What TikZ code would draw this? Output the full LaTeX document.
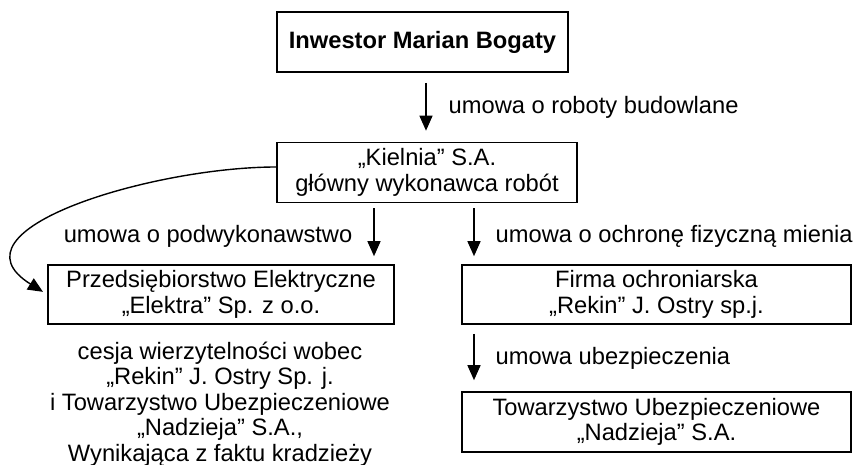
\documentclass[tikz,border=0pt]{standalone}
\usepackage{fontspec}
\setmainfont{Liberation Sans}
\usetikzlibrary{arrows.meta}
\tikzset{
	box/.style={draw, line width=0.8pt, inner sep=0pt, align=center},
	arr/.style={-{Triangle[width=6.5pt,length=7.5pt]}, line width=0.7pt, shorten <=5pt, shorten >=5.5pt},
	lbl/.style={inner sep=0pt}
}

\begin{document}
\begin{tikzpicture}[x=0.5pt,y=-0.5pt]
                        \useasboundingbox (0,0) rectangle (857,465);
                        {\fontsize{11.85pt}{12.8pt}\selectfont

                        % Columns of the arrows
                        \coordinate (colA) at (426,0);
                        \coordinate (colB) at (374,0);
                        \coordinate (colC) at (474,0);

                        % Drawing box inwestor
                        \node [box, minimum width=145.5pt, minimum height=30pt] (inwestor) at (422.5,42) {\textbf{Inwestor Marian Bogaty}};%

                        % Drawing box kielnia
                        \node [box, minimum width=150pt, minimum height=30pt] (kielnia) at (427,172.5) {„Kielnia” S.A.\\główny wykonawca robót};%

                        % Drawing box elektra
                        \node [box, minimum width=173pt, minimum height=29.5pt] (elektra) at (221,294.5) {Przedsiębiorstwo Elektryczne\\„Elektra” Sp. z o.o.};%

                        % Drawing box rekin
                        \node [box, minimum width=194.5pt, minimum height=29.5pt] (rekin) at (656.5,294.5) {Firma ochroniarska\\„Rekin” J. Ostry sp.j.};%

                        % Drawing box nadzieja
                        \node [box, minimum width=194.5pt, minimum height=30pt] (nadzieja) at (656.5,422) {Towarzystwo Ubezpieczeniowe\\„Nadzieja” S.A.};%

                        % Marking text cesja
                        \node [lbl, align=center] (cesja) at (220,404) {cesja wierzytelności wobec\\„Rekin” J. Ostry Sp. j.\\i Towarzystwo Ubezpieczeniowe\\„Nadzieja” S.A.,\\Wynikająca z faktu kradzieży};%

                        % Drawing arrow inwestor -> kielnia
                        \draw [arr] (inwestor.south -| colA) -- (kielnia.north -| colA) node [midway, lbl, anchor=west, xshift=11pt] (umowaA) {umowa o roboty budowlane};%

                        % Drawing arrow kielnia -> elektra
                        \draw [arr, shorten <=2.5pt, shorten >=4pt] (kielnia.south -| colB) -- (elektra.north -| colB) node [midway, lbl, anchor=east, xshift=-10.5pt, yshift=-1.5pt] (umowaB) {umowa o podwykonawstwo};%

                        % Drawing arrow kielnia -> rekin
                        \draw [arr, shorten <=2.5pt, shorten >=4pt] (kielnia.south -| colC) -- (rekin.north -| colC) node [midway, lbl, anchor=west, xshift=10.5pt, yshift=-1.5pt] (umowaC) {umowa o ochronę fizyczną mienia};%

                        % Drawing arrow rekin -> nadzieja
                        \draw [arr, shorten <=4.5pt] (rekin.south -| colC) -- (nadzieja.north -| colC) node [midway, lbl, anchor=west, xshift=10.5pt] (umowaD) {umowa ubezpieczenia};%

                        % Drawing curved arrow kielnia -> elektra
                        \draw [arr, shorten <=0pt, shorten >=2.5pt] ([yshift=2.75pt]kielnia.west) to [out=180, in=148, looseness=1.2] (elektra.west);%
                        }
\end{tikzpicture}
\end{document}
